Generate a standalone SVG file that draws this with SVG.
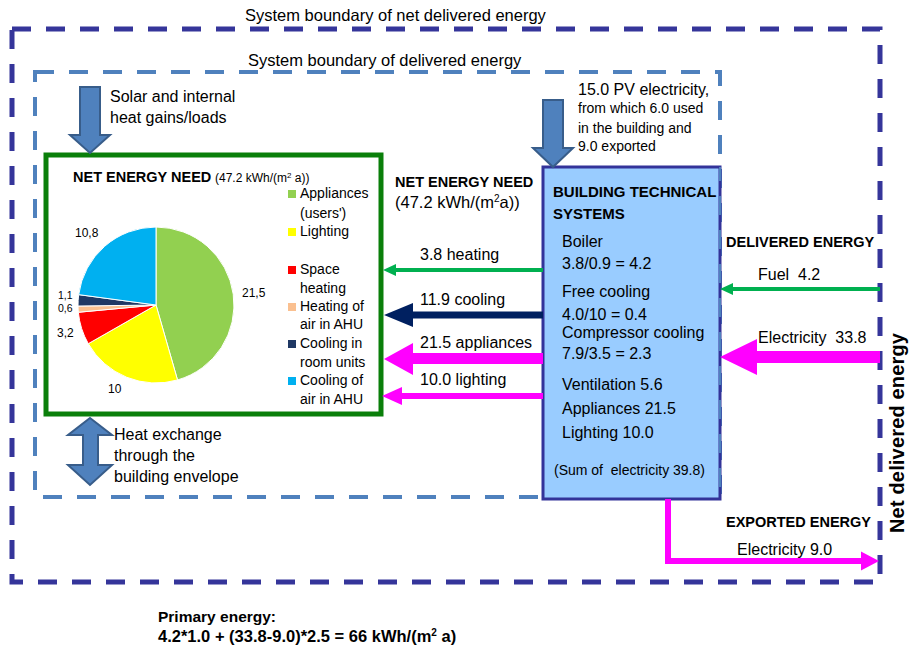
<svg xmlns="http://www.w3.org/2000/svg" width="909" height="650" viewBox="0 0 909 650">
<style>
text{font-family:"Liberation Sans",Arial,sans-serif;fill:#000;white-space:pre}
.b{font-weight:bold}
.t16{font-size:16px}
.t14{font-size:14px}
.t12{font-size:12px}
.outer{fill:none;stroke:#35359a;stroke-width:5;stroke-dasharray:19 15}
.inner{fill:none;stroke:#4f81bd;stroke-width:4;stroke-dasharray:19 15}
.blk{fill:#4f81bd;stroke:#385d8a;stroke-width:2;stroke-linejoin:miter}
.grn{fill:#00b050}
.nav{fill:#002060}
.mag{fill:#ff00ff}
.sl{stroke:#fff;stroke-width:1}
</style>
<rect width="909" height="650" fill="#fff"/>
<g id="boundaries">
<rect class="outer" x="12" y="29" width="868" height="553"/>
<rect class="inner" x="35" y="72" width="685" height="425"/>
<text class="t16" x="245" y="21" style="font-size:16.5px">System boundary of net delivered energy</text>
<text class="t16" x="248" y="66" style="font-size:16.5px">System boundary of delivered energy</text>
<text class="b" x="904" y="533" transform="rotate(-90 904 533)" style="font-size:20px" textLength="200">Net delivered energy</text>
</g>
<g id="net-energy-need">
<rect x="46" y="155" width="335" height="259" fill="#fff" stroke="#0a7f0a" stroke-width="5"/>
<text class="b" x="73" y="182" style="font-size:14.5px">NET ENERGY NEED</text>
<text class="t12" x="215" y="182">(47.2 kWh/(m<tspan style="font-size:8px" dy="-4">2</tspan><tspan dy="4"> a))</tspan></text>
<g id="pie">
<path class="sl" fill="#92d050" d="M156,305 L156,227 A78,78 0 0 1 177.53,379.97 Z"/>
<path class="sl" fill="#ffff00" d="M156,305 L177.53,379.97 A78,78 0 0 1 88.28,343.70 Z"/>
<path class="sl" fill="#ff0000" d="M156,305 L88.28,343.70 A78,78 0 0 1 78.34,312.26 Z"/>
<path class="sl" fill="#fac090" d="M156,305 L78.34,312.26 A78,78 0 0 1 78.01,306.03 Z"/>
<path class="sl" fill="#1f3864" d="M156,305 L78.01,306.03 A78,78 0 0 1 78.69,294.64 Z"/>
<path class="sl" fill="#00b0f0" d="M156,305 L78.69,294.64 A78,78 0 0 1 156,227 Z"/>
<text class="t12" x="242" y="297">21,5</text>
<text class="t12" x="108" y="393">10</text>
<text class="t12" x="57" y="337">3,2</text>
<text x="58" y="312" style="font-size:10.5px">0,6</text>
<text x="58" y="299" style="font-size:10.5px">1,1</text>
<text class="t12" x="75" y="237">10,8</text>
</g>
<g id="legend">
<rect x="288" y="190" width="8" height="8" fill="#92d050"/>
<rect x="288" y="228" width="8" height="8" fill="#ffff00"/>
<rect x="288" y="266" width="8" height="8" fill="#ff0000"/>
<rect x="288" y="303" width="8" height="8" fill="#fac090"/>
<rect x="288" y="340" width="8" height="8" fill="#1f3864"/>
<rect x="288" y="377" width="8" height="8" fill="#00b0f0"/>
<text class="t14" x="300" y="198">Appliances</text>
<text class="t14" x="300" y="218">(users')</text>
<text class="t14" x="300" y="236">Lighting</text>
<text class="t14" x="300" y="274">Space</text>
<text class="t14" x="300" y="293">heating</text>
<text class="t14" x="300" y="311">Heating of</text>
<text class="t14" x="300" y="329">air in AHU</text>
<text class="t14" x="300" y="348">Cooling in</text>
<text class="t14" x="300" y="367">room units</text>
<text class="t14" x="300" y="385">Cooling of</text>
<text class="t14" x="300" y="404">air in AHU</text>
</g>
</g>
<g id="building-technical-systems">
<rect x="543" y="167" width="177" height="332" fill="#99ccff" stroke="#333399" stroke-width="3"/>
<line x1="720" y1="167" x2="720" y2="497" stroke="#4f81bd" stroke-width="2" stroke-dasharray="19 15" stroke-dashoffset="5"/>
<text class="b" x="553" y="197" style="font-size:15px">BUILDING TECHNICAL</text>
<text class="b" x="553" y="219" style="font-size:15px">SYSTEMS</text>
<text class="t16" x="562" y="247">Boiler</text>
<text class="t16" x="562" y="269">3.8/0.9 = 4.2</text>
<text class="t16" x="562" y="297">Free cooling</text>
<text class="t16" x="562" y="320">4.0/10 = 0.4</text>
<text class="t16" x="562" y="338">Compressor cooling</text>
<text class="t16" x="562" y="359">7.9/3.5 = 2.3</text>
<text class="t16" x="562" y="390">Ventilation 5.6</text>
<text class="t16" x="562" y="414">Appliances 21.5</text>
<text class="t16" x="562" y="438">Lighting 10.0</text>
<text class="t14" x="554" y="475">(Sum of  electricity 39.8)</text>
</g>
<g id="solar-gains">
<polygon class="blk" points="80,87 100,87 100,135 110,135 90,153 70,135 80,135"/>
<text class="t16" x="110" y="102">Solar and internal</text>
<text class="t16" x="110" y="123">heat gains/loads</text>
</g>
<g id="pv">
<polygon class="blk" points="543,100 563,100 563,148 573,148 553,167 533,148 543,148"/>
<text class="t16" x="578" y="95">15.0 PV electricity,</text>
<text class="t14" x="578" y="113">from which 6.0 used</text>
<text class="t14" x="578" y="133">in the building and</text>
<text class="t14" x="578" y="151">9.0 exported</text>
</g>
<g id="heat-exchange">
<polygon class="blk" points="90,418 112,435 98,435 98,465 112,465 90,485 68,465 83,465 83,435 68,435"/>
<text class="t16" x="114" y="440">Heat exchange</text>
<text class="t16" x="114" y="461">through the</text>
<text class="t16" x="114" y="482">building envelope</text>
</g>
<g id="connectors">
<polygon class="grn" points="543,268 396,268 396,264 383,270 396,276 396,272 543,272"/>
<polygon class="nav" points="543,311.5 413,311.5 413,303 384,315 413,327 413,318.5 543,318.5"/>
<polygon class="mag" points="543,353 413,353 413,343 384,359 413,375 413,364 543,364"/>
<polygon class="mag" points="543,393 402,393 402,387 382,396 402,405 402,399 543,399"/>
<polygon class="grn" points="880,287 733,287 733,283 720,289 733,295 733,291 880,291"/>
<polygon class="mag" points="880,351 757,351 757,339 720,357 757,375 757,363 880,363"/>
<polygon class="mag" points="665,499 671,499 671,558 861,558 861,551.5 879,561 861,570.5 861,564 665,564"/>
</g>
<g id="labels">
<text class="b" x="395" y="187" style="font-size:14.5px">NET ENERGY NEED</text>
<text x="395" y="208" style="font-size:16.5px">(47.2 kWh/(m<tspan style="font-size:10px" dy="-6">2</tspan><tspan dy="6">a))</tspan></text>
<text class="t16" x="420" y="260">3.8 heating</text>
<text class="t16" x="420" y="305">11.9 cooling</text>
<text class="t16" x="420" y="348">21.5 appliances</text>
<text class="t16" x="420" y="385">10.0 lighting</text>
<text class="b" x="726" y="247" style="font-size:14.5px">DELIVERED ENERGY</text>
<text class="t16" x="758" y="280">Fuel  4.2</text>
<text class="t16" x="758" y="343">Electricity  33.8</text>
<text class="b" x="726" y="527" style="font-size:14.5px">EXPORTED ENERGY</text>
<text class="t16" x="737" y="555">Electricity 9.0</text>
<text class="b" x="158" y="622" style="font-size:15.5px">Primary energy:</text>
<text class="b" x="158" y="642" style="font-size:16.5px">4.2*1.0 + (33.8-9.0)*2.5 = 66 kWh/(m<tspan style="font-size:10px" dy="-6">2</tspan><tspan dy="6"> a)</tspan></text>
</g>
</svg>
